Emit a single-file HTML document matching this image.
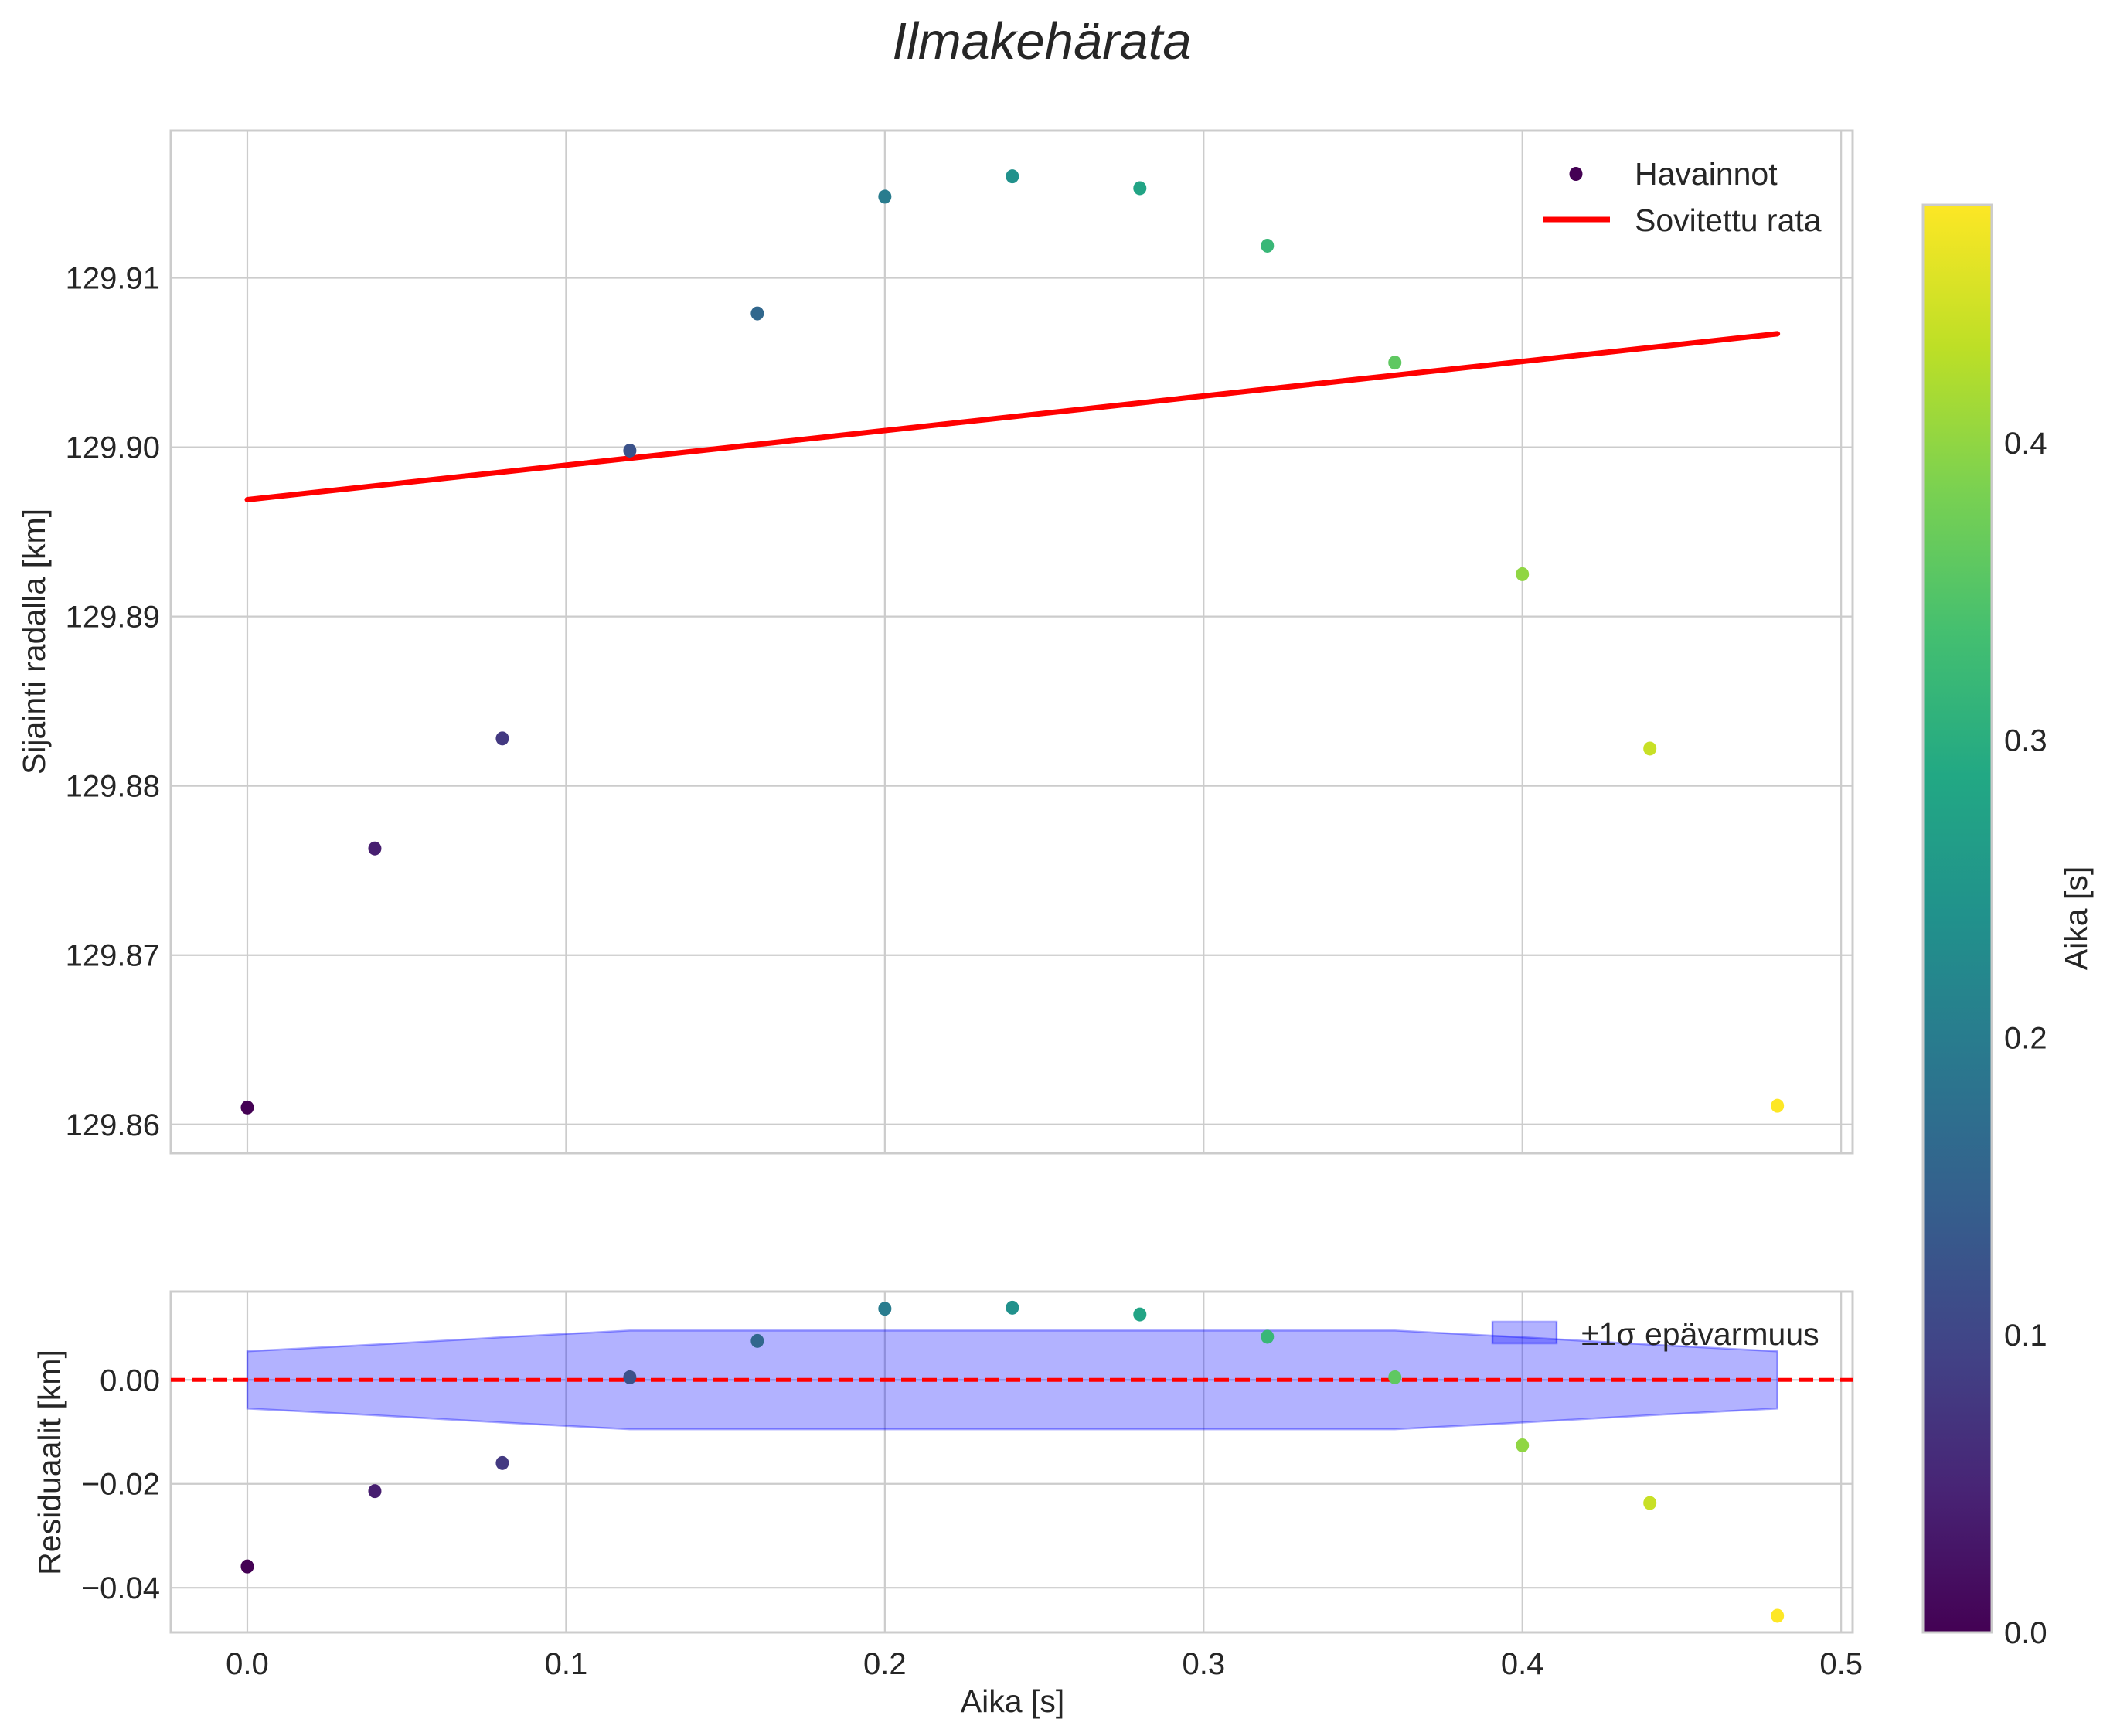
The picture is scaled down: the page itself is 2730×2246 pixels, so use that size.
<!DOCTYPE html>
<html><head><meta charset="utf-8"><style>
html,body{margin:0;padding:0;background:#fff;}
svg{display:block;font-family:"Liberation Sans",sans-serif;}
</style></head><body>
<svg id="chart" width="2730" height="2246" viewBox="0 0 2730 2246" xmlns="http://www.w3.org/2000/svg">
<defs>
<linearGradient id="viridis" x1="0" y1="1" x2="0" y2="0">
<stop offset="0" stop-color="#440154"/><stop offset="0.1" stop-color="#482475"/><stop offset="0.2" stop-color="#414487"/><stop offset="0.3" stop-color="#355f8d"/><stop offset="0.4" stop-color="#2a788e"/><stop offset="0.5" stop-color="#21918c"/><stop offset="0.6" stop-color="#22a884"/><stop offset="0.7" stop-color="#44bf70"/><stop offset="0.8" stop-color="#7ad151"/><stop offset="0.9" stop-color="#bddf26"/><stop offset="1" stop-color="#fde725"/>
</linearGradient>
</defs>
<text x="1348" y="76" font-size="67" font-style="italic" text-anchor="middle" fill="#262626">Ilmakehärata</text>
<g id="topPanel"></g>
<g id="botPanel"></g>
<g id="cbarPanel"></g>
</svg>
<script>
const times = [0,0.04,0.08,0.12,0.16,0.20,0.24,0.28,0.32,0.36,0.40,0.44,0.48];
const positions = [129.8610,129.8763,129.8828,129.8998,129.9079,129.9148,129.9160,129.9153,129.9119,129.9050,129.8925,129.8822,129.8611];
const fitEnds = [129.8969,129.9067];
const residuals = [-0.0359,-0.0214,-0.0160,0.0005,0.0075,0.0137,0.0139,0.0126,0.0083,0.0005,-0.0126,-0.0237,-0.0454];
const sigmas = [0.0055,0.0068,0.0082,0.0095,0.0095,0.0095,0.0095,0.0095,0.0095,0.0095,0.0082,0.0068,0.0055];
const xTicks = [0,0.1,0.2,0.3,0.4,0.5];
const xTickLabels = ["0.0","0.1","0.2","0.3","0.4","0.5"];
const yTopTicks = [129.86,129.87,129.88,129.89,129.90,129.91];
const yTopLabels = ["129.86","129.87","129.88","129.89","129.90","129.91"];
const yBotTicks = [-0.04,-0.02,0.00];
const yBotLabels = ["\u22120.04","\u22120.02","0.00"];
const cTicks = [0,0.1,0.2,0.3,0.4];
const cLabels = ["0.0","0.1","0.2","0.3","0.4"];

const NS="http://www.w3.org/2000/svg";
function mk(p,tag,attrs,txt){const e=document.createElementNS(NS,tag);for(const k in attrs)e.setAttribute(k,attrs[k]);if(txt!==undefined)e.textContent=txt;p.appendChild(e);return e;}
const AL=221,AR=2397;
const xmin=-0.0240,xmax=0.5036;
const X=v=>AL+(v-xmin)/(xmax-xmin)*(AR-AL);
const T1=169,B1=1492,y1min=129.8583,y1max=129.9187;
const Y1=v=>B1-(v-y1min)/(y1max-y1min)*(B1-T1);
const T2=1671,B2=2112,y2min=-0.0486,y2max=0.0170;
const Y2=v=>B2-(v-y2min)/(y2max-y2min)*(B2-T2);
const vir=["#440154","#482475","#414487","#355f8d","#2a788e","#21918c","#22a884","#44bf70","#7ad151","#bddf26","#fde725"];
function hex(c){return [1,3,5].map(i=>parseInt(c.substr(i,2),16));}
function cmap(f){f=Math.max(0,Math.min(1,f));const s=f*10,i=Math.min(9,Math.floor(s)),t=s-i;const a=hex(vir[i]),b=hex(vir[i+1]);return "rgb("+a.map((v,k)=>Math.round(v+(b[k]-v)*t)).join(",")+")";}
const cmax=0.48;
const FS=40, LS=41;

// top panel
const topG=document.getElementById('topPanel');
xTicks.forEach((t,i)=>{const l=mk(topG,'line',{x1:X(t),x2:X(t),y1:T1,y2:B1,stroke:'#cccccc','stroke-width':2.2});

});
yTopTicks.forEach((t,i)=>{const l=mk(topG,'line',{x1:AL,x2:AR,y1:Y1(t),y2:Y1(t),stroke:'#cccccc','stroke-width':2.2});


const tx=mk(topG,'text',{x:AL-14,y:Y1(t)+14,'font-size':FS,'text-anchor':'end',fill:'#262626'},yTopLabels[i]);

});
const f1=mk(topG,'rect',{x:AL,y:T1,width:AR-AL,height:B1-T1,fill:'none',stroke:'#cccccc','stroke-width':3});


const fl=mk(topG,'line',{x1:X(times[0]),y1:Y1(fitEnds[0]),x2:X(times[times.length-1]),y2:Y1(fitEnds[1]),stroke:'#ff0000','stroke-width':7,'stroke-linecap':'round'});


times.forEach((t,i)=>{const c=mk(topG,'ellipse',{cx:X(t),cy:Y1(positions[i]),rx:8.5,ry:9,fill:cmap(t/cmax)});

});
const yl1=mk(topG,'text',{x:58,y:830,'font-size':LS,'text-anchor':'middle',fill:'#262626',transform:'rotate(-90 58 830)'},'Sijainti radalla [km]');


const lg1=mk(topG,'g',{});


const lm=mk(lg1,'ellipse',{cx:2039,cy:225,rx:8.5,ry:9,fill:'#440154'});


const lt1=mk(lg1,'text',{x:2115,y:239,'font-size':LS,fill:'#262626'},'Havainnot');


const ll=mk(lg1,'line',{x1:1997,x2:2083,y1:284,y2:284,stroke:'#ff0000','stroke-width':7});


const lt2=mk(lg1,'text',{x:2115,y:299,'font-size':LS,fill:'#262626'},'Sovitettu rata');



// bottom panel
const botG=document.getElementById('botPanel');
xTicks.forEach((t,i)=>{const l=mk(botG,'line',{x1:X(t),x2:X(t),y1:T2,y2:B2,stroke:'#cccccc','stroke-width':2.2});


const tx=mk(botG,'text',{x:X(t),y:B2+54,'font-size':FS,'text-anchor':'middle',fill:'#262626'},xTickLabels[i]);

});
yBotTicks.forEach((t,i)=>{const l=mk(botG,'line',{x1:AL,x2:AR,y1:Y2(t),y2:Y2(t),stroke:'#cccccc','stroke-width':2.2});


const tx=mk(botG,'text',{x:AL-14,y:Y2(t)+14,'font-size':FS,'text-anchor':'end',fill:'#262626'},yBotLabels[i]);

});
const f2=mk(botG,'rect',{x:AL,y:T2,width:AR-AL,height:B2-T2,fill:'none',stroke:'#cccccc','stroke-width':3});


let pts=times.map((t,i)=>X(t)+','+Y2(sigmas[i]));
pts=pts.concat(times.slice().reverse().map((t,j)=>{const i=times.length-1-j;return X(t)+','+Y2(-sigmas[i]);}));
const band=mk(botG,'polygon',{points:pts.join(' '),fill:'rgba(0,0,255,0.3)',stroke:'rgba(0,0,255,0.35)','stroke-width':2.5});


const zl=mk(botG,'line',{x1:AL,x2:AR,y1:Y2(0),y2:Y2(0),stroke:'#ff0000','stroke-width':5,'stroke-dasharray':'19 8'});


times.forEach((t,i)=>{const c=mk(botG,'ellipse',{cx:X(t),cy:Y2(residuals[i]),rx:8.5,ry:9,fill:cmap(t/cmax)});

});
const yl2=mk(botG,'text',{x:78,y:1892,'font-size':LS,'text-anchor':'middle',fill:'#262626',transform:'rotate(-90 78 1892)'},'Residuaalit [km]');


const xl=mk(botG,'text',{x:1310,y:2215,'font-size':LS,'text-anchor':'middle',fill:'#262626'},'Aika [s]');


const lg2=mk(botG,'g',{});


const lp=mk(lg2,'rect',{x:1931,y:1710,width:83,height:28,fill:'rgba(0,0,255,0.3)',stroke:'rgba(0,0,255,0.35)','stroke-width':2.5});


const lt3=mk(lg2,'text',{x:2046,y:1740,'font-size':LS,fill:'#262626'},'±1σ epävarmuus');



// colorbar
const cbG=document.getElementById('cbarPanel');
const CL=2488,CR=2577,CT=265,CB=2112;
const CY=v=>CB-v/cmax*(CB-CT);
const cr=mk(cbG,'rect',{x:CL,y:CT,width:CR-CL,height:CB-CT,fill:'url(#viridis)',stroke:'#cccccc','stroke-width':3});


cTicks.forEach((t,i)=>{const tx=mk(cbG,'text',{x:CR+16,y:CY(t)+14,'font-size':FS,fill:'#262626'},cLabels[i]);

});
const cl=mk(cbG,'text',{x:2700,y:1188,'font-size':LS,'text-anchor':'middle',fill:'#262626',transform:'rotate(-90 2700 1188)'},'Aika [s]');


</script>
</body></html>
